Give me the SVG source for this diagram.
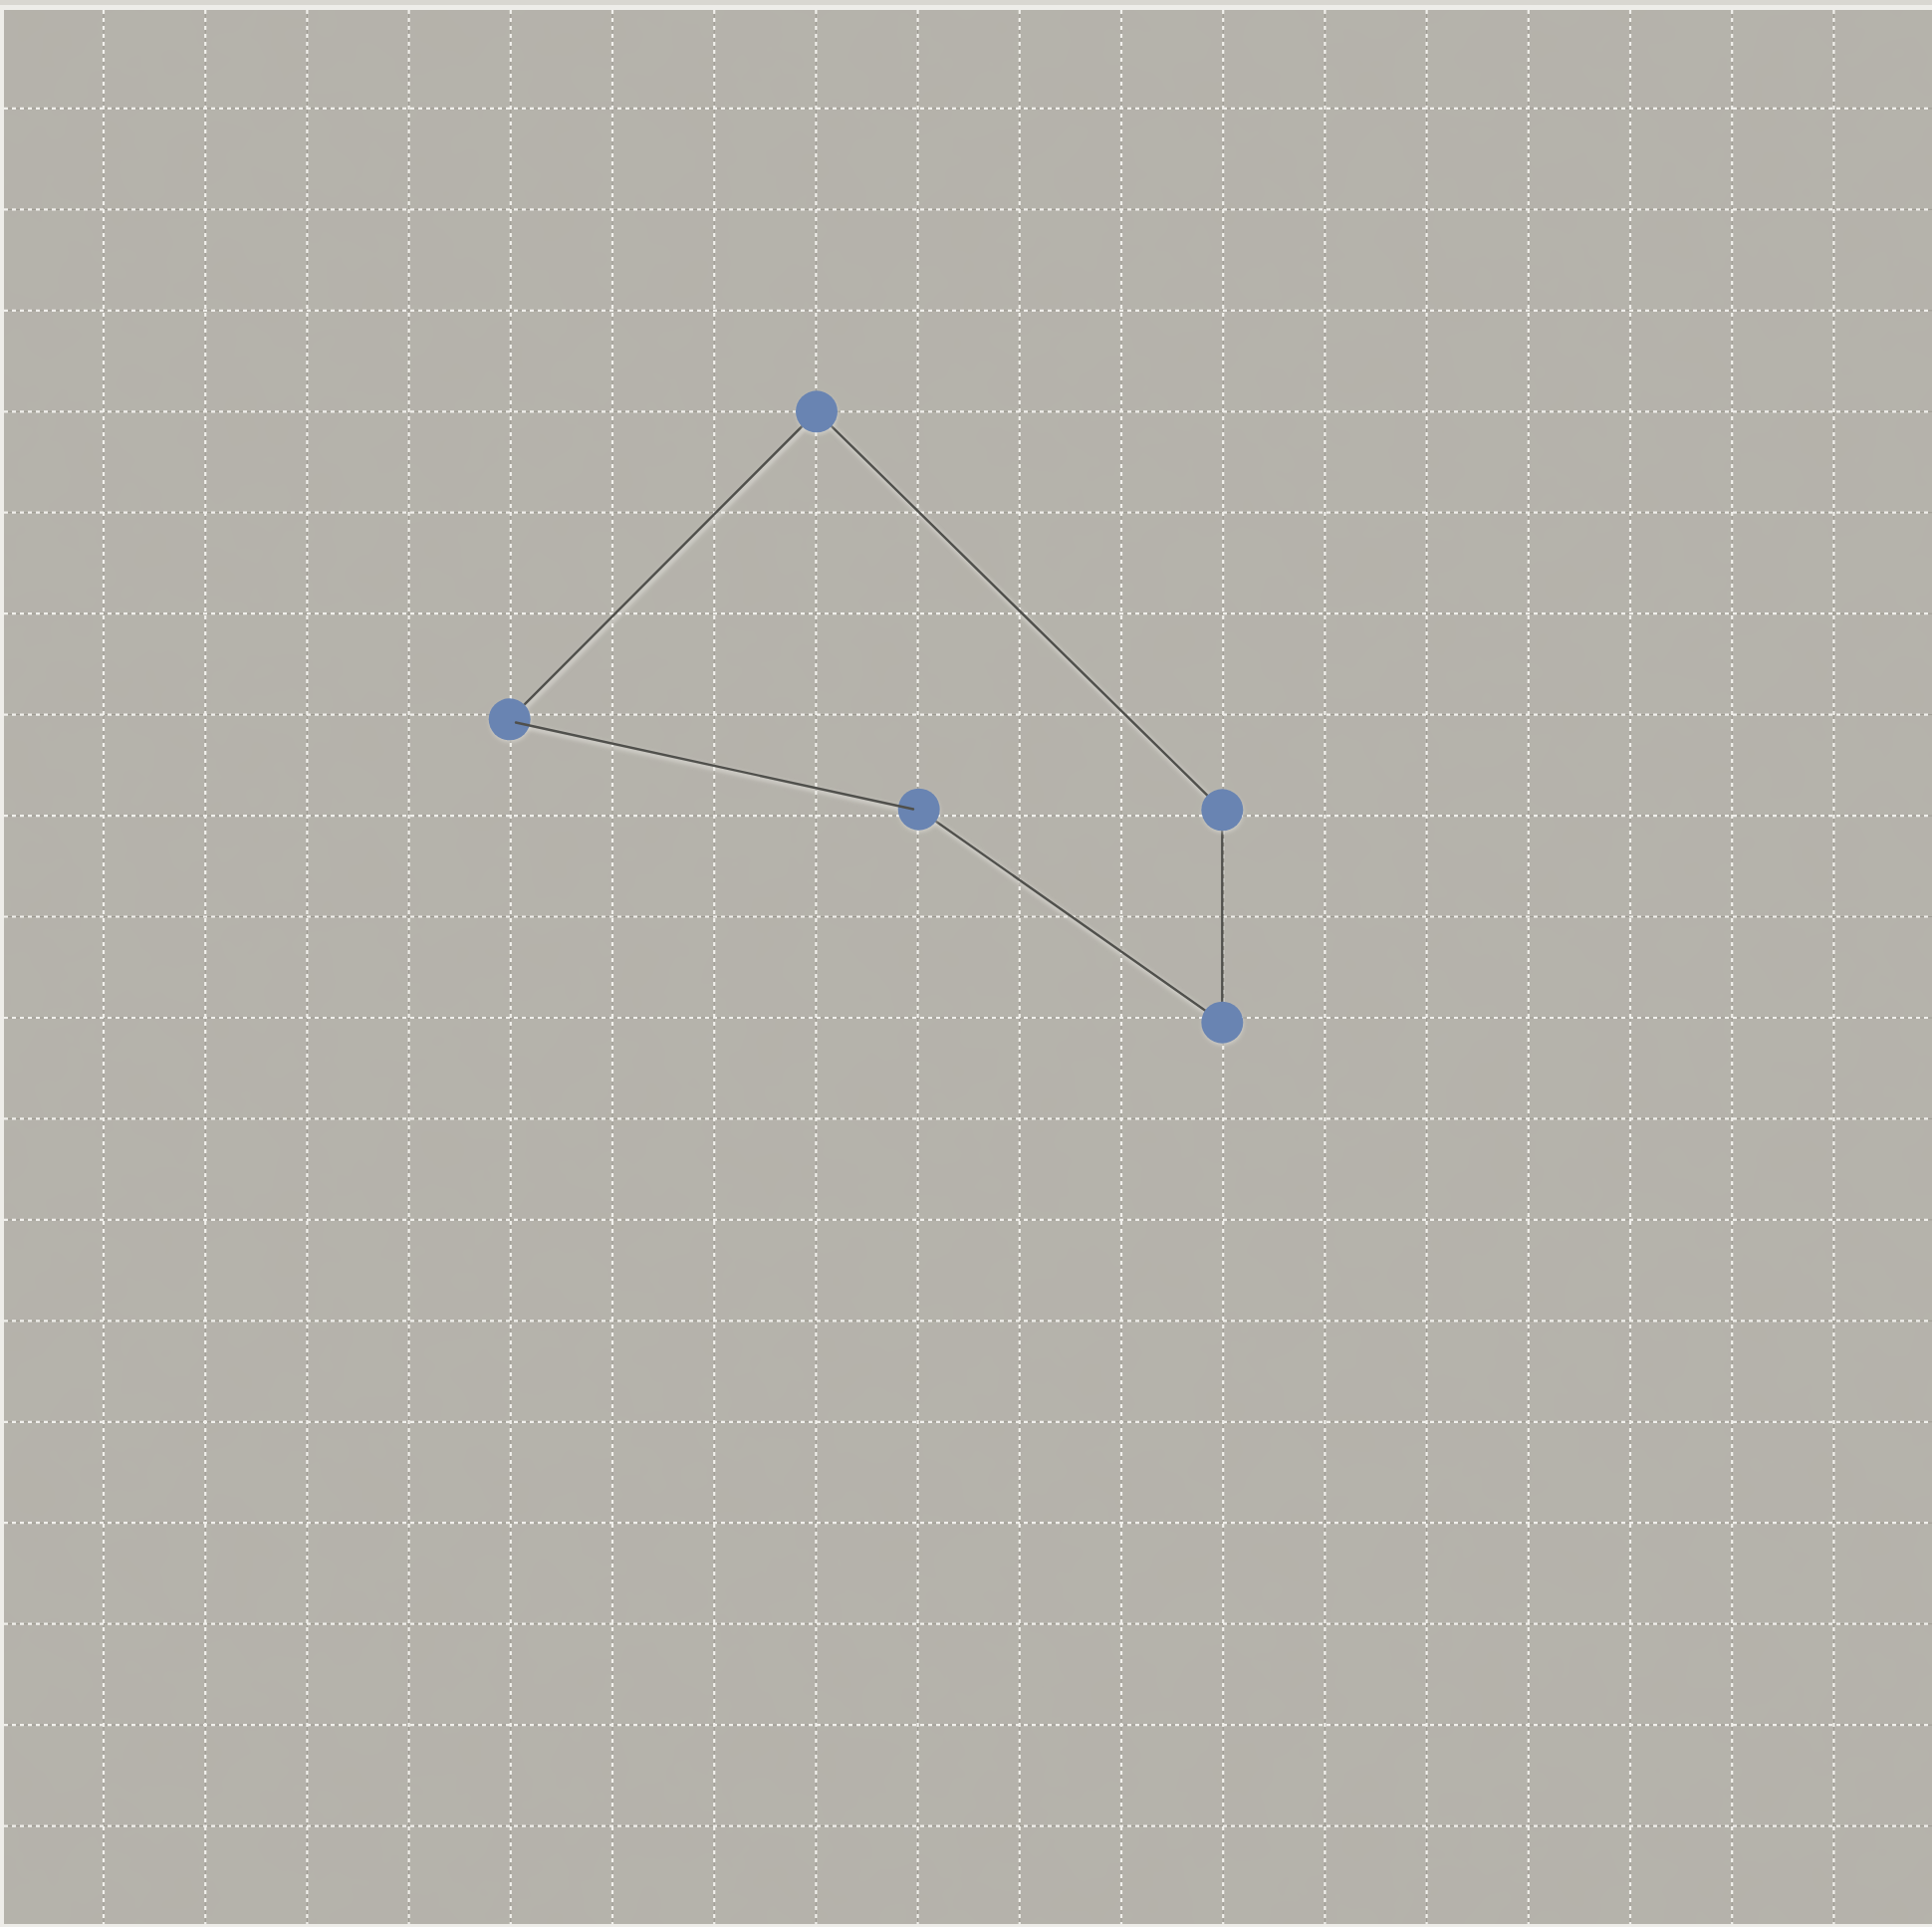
<svg xmlns="http://www.w3.org/2000/svg" width="1940" height="1935" viewBox="0 0 1940 1935">
<defs>
<style>
.gl{stroke:#9d9a92;stroke-width:1;fill:none}
.gd{stroke:#f1f0ec;stroke-width:2.2;stroke-dasharray:4 4;fill:none}
.edge{stroke:#50504c;stroke-width:2.4;fill:none;stroke-linecap:round}
.halo{stroke:#ecebe6;stroke-width:4;fill:none;opacity:0.6;filter:url(#blur)}
.node{fill:#6984b2}
.nshadow{fill:#f2f1ec;opacity:0.45;filter:url(#blur)}
</style>
<filter id="blur" x="-50%" y="-50%" width="200%" height="200%"><feGaussianBlur stdDeviation="2"/></filter>
<filter id="paper" x="0" y="0" width="100%" height="100%">
<feTurbulence type="fractalNoise" baseFrequency="0.015" numOctaves="3" seed="4" result="n"/>
<feColorMatrix in="n" type="matrix" values="0 0 0 0 0.48  0 0 0 0 0.48  0 0 0 0 0.46  0 0 0 0.16 0"/>
</filter>
</defs>
<rect x="0" y="0" width="1940" height="1935" fill="#eeede9"/>
<rect x="0" y="0" width="1940" height="5" fill="#d9d7d1"/>
<rect x="4" y="10" width="1936" height="1922" fill="#b5b2aa"/>
<rect x="4" y="10" width="1936" height="1922" filter="url(#paper)"/>
<g id="grid">
<g class="gl">
<path d="M104 10V1932M206.2 10V1932M308.4 10V1932M410.6 10V1932M512.8 10V1932M615 10V1932M717.2 10V1932M819.4 10V1932M921.6 10V1932M1023.8 10V1932M1126 10V1932M1228.2 10V1932M1330.4 10V1932M1432.6 10V1932M1534.8 10V1932M1637 10V1932M1739.2 10V1932M1841.4 10V1932"/>
<path d="M4 108.9H1940M4 210.4H1940M4 311.8H1940M4 413.3H1940M4 514.7H1940M4 616.2H1940M4 717.6H1940M4 819.1H1940M4 920.5H1940M4 1022H1940M4 1123.4H1940M4 1224.9H1940M4 1326.3H1940M4 1427.8H1940M4 1529.2H1940M4 1630.7H1940M4 1732.1H1940M4 1833.6H1940"/>
</g>
<g class="gd">
<path d="M104 10V1932M206.2 10V1932M308.4 10V1932M410.6 10V1932M512.8 10V1932M615 10V1932M717.2 10V1932M819.4 10V1932M921.6 10V1932M1023.8 10V1932M1126 10V1932M1228.2 10V1932M1330.4 10V1932M1432.6 10V1932M1534.8 10V1932M1637 10V1932M1739.2 10V1932M1841.4 10V1932"/>
<path d="M4 108.9H1940M4 210.4H1940M4 311.8H1940M4 413.3H1940M4 514.7H1940M4 616.2H1940M4 717.6H1940M4 819.1H1940M4 920.5H1940M4 1022H1940M4 1123.4H1940M4 1224.9H1940M4 1326.3H1940M4 1427.8H1940M4 1529.2H1940M4 1630.7H1940M4 1732.1H1940M4 1833.6H1940"/>
</g>
</g>
<g id="connectors">
<g transform="translate(1.5,2.5)">
<path class="halo" d="M820 413.3L511.7 722.3"/>
<path class="halo" d="M820 413.3L1227.3 813.3"/>
<path class="halo" d="M922.7 812.7L1227.3 1026.7"/>
<path class="halo" d="M1227.3 813.3V1026.7"/>
<path class="halo" d="M518 725.5L917 812.5"/>
</g>
<path class="edge" d="M820 413.3L511.7 722.3"/>
<path class="edge" d="M820 413.3L1227.3 813.3"/>
<path class="edge" d="M922.7 812.7L1227.3 1026.7"/>
<path class="edge" d="M1227.3 813.3V1026.7"/>
</g>
<g id="node-a"><circle class="nshadow" cx="820.5" cy="415.5" r="20.5"/><circle class="node" cx="820" cy="413.3" r="21"/></g>
<g id="node-b"><circle class="nshadow" cx="512.2" cy="724.5" r="20.5"/><circle class="node" cx="511.7" cy="722.3" r="21"/></g>
<g id="node-c"><circle class="nshadow" cx="923.2" cy="814.9" r="20.5"/><circle class="node" cx="922.7" cy="812.7" r="21"/></g>
<g id="node-d"><circle class="nshadow" cx="1227.8" cy="815.5" r="20.5"/><circle class="node" cx="1227.3" cy="813.3" r="21"/></g>
<g id="node-e"><circle class="nshadow" cx="1227.8" cy="1028.9" r="20.5"/><circle class="node" cx="1227.3" cy="1026.7" r="21"/></g>
<g id="connector-bc-top"><path class="edge" d="M518 725.5L917 812.5"/></g>
</svg>
